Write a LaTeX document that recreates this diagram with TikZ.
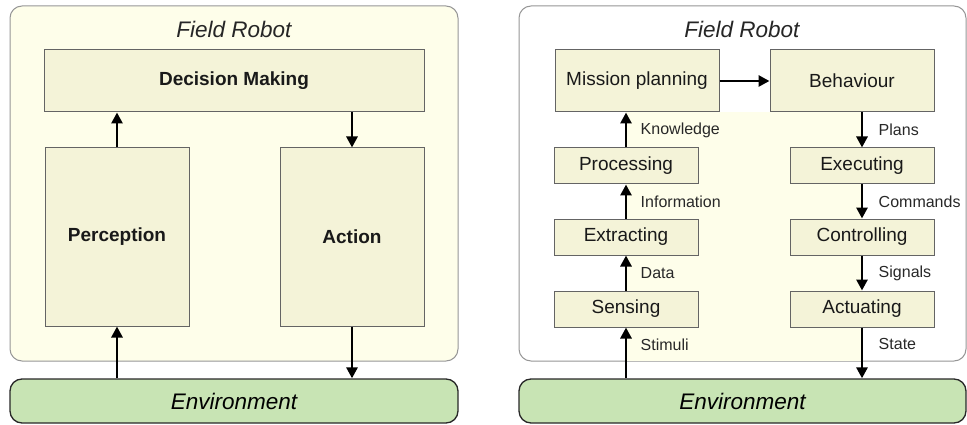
\documentclass[tikz,border=0pt]{standalone}
\usepackage{fontspec}
\setmainfont{Liberation Sans}
\usetikzlibrary{arrows.meta}
\definecolor{framefill}{RGB}{254,254,234}
\definecolor{frameline}{RGB}{150,150,150}
\definecolor{boxfill}{RGB}{244,243,216}
\definecolor{boxline}{RGB}{100,100,100}
\definecolor{envfill}{RGB}{200,228,180}
\definecolor{envline}{RGB}{40,40,40}
\definecolor{labeltext}{RGB}{40,40,40}
\tikzset{
	block/.style={draw=boxline, fill=boxfill, line width=1pt, inner sep=0pt, text=black!90, font=\fontsize{19}{22}\selectfont},
	boldblock/.style={block, font=\fontsize{19}{22}\selectfont\bfseries},
	envblock/.style={draw=envline, fill=envfill, line width=1.3pt, rounded corners=12pt, minimum width=447pt, minimum height=44pt, font=\fontsize{22.5}{26}\selectfont\itshape},
	robotframe/.style={draw=frameline, line width=1pt, rounded corners=12pt},
	title/.style={font=\fontsize{22.5}{26}\selectfont\itshape, text=black!85},
	flow/.style={line width=2.8pt, -{Triangle[length=11pt,width=11pt]}},
	flowlabel/.style={font=\fontsize{16}{19}\selectfont, text=labeltext},
}
\begin{document}
\begin{tikzpicture}[x=1pt,y=-1pt]
	\useasboundingbox (0,0) rectangle (967,425);
	\draw[robotframe, fill=framefill] (10,6) rectangle (458,361);
	\draw[robotframe, fill=white] (519,6) rectangle (966,361);
	\fill[framefill] (626,112) rectangle (862,360.5);
	\node[title] (title1) at (234,29) {Field Robot};
	\node[boldblock, minimum width=380pt, minimum height=62pt] (dm) at (234,81) {Decision Making};
	\node[boldblock, minimum width=144pt, minimum height=178pt] (perc) at (117,237) {Perception};
	\node[boldblock, minimum width=144pt, minimum height=178pt] (act) at (352,237) {Action};
	\node[envblock, minimum width=448pt] (env1) at (234,401) {Environment};
	\draw[flow] (perc.north) -- (perc.north |- dm.south);
	\draw[flow] (act.north |- dm.south) -- (act.north);
	\draw[flow] (perc.south |- env1.north) -- (perc.south);
	\draw[flow] (act.south) -- (act.south |- env1.north);
	\node[title] (title2) at (742,29) {Field Robot};
	\node[block, minimum width=164pt, minimum height=62pt] (mp) at (637,81) {Mission planning};
	\node[block, minimum width=164pt, minimum height=62pt] (beh) at (852,81) {Behaviour};
	\node[block, minimum width=144pt, minimum height=36pt] (proc) at (626,166) {Processing};
	\node[block, minimum width=144pt, minimum height=36pt] (ext) at (626,237) {Extracting};
	\node[block, minimum width=144pt, minimum height=36pt] (sens) at (626,309) {Sensing};
	\node[block, minimum width=144pt, minimum height=36pt] (exe) at (862,166) {Executing};
	\node[block, minimum width=144pt, minimum height=36pt] (ctrl) at (862,237) {Controlling};
	\node[block, minimum width=144pt, minimum height=36pt] (actu) at (862,309) {Actuating};
	\node[envblock] (env2) at (742.5,401) {Environment};
	\draw[flow] (mp.east) -- (beh.west);
	\draw[flow] (proc.north) -- (proc.north |- mp.south) node[flowlabel, midway, right=10pt] {Knowledge};
	\draw[flow] (ext.north) -- (proc.south) node[flowlabel, midway, right=10pt] {Information};
	\draw[flow] (sens.north) -- (ext.south) node[flowlabel, midway, right=10pt] {Data};
	\draw[flow] (sens.south |- env2.north) -- (sens.south) node[flowlabel, pos=0.67, right=10pt] {Stimuli};
	\draw[flow] (exe.north |- beh.south) -- (exe.north) node[flowlabel, midway, right=12pt] {Plans};
	\draw[flow] (exe.south) -- (ctrl.north) node[flowlabel, midway, right=12pt] {Commands};
	\draw[flow] (ctrl.south) -- (actu.north) node[flowlabel, midway, right=12pt] {Signals};
	\draw[flow] (actu.south) -- (actu.south |- env2.north) node[flowlabel, pos=0.33, right=12pt] {State};
\end{tikzpicture}
\end{document}
